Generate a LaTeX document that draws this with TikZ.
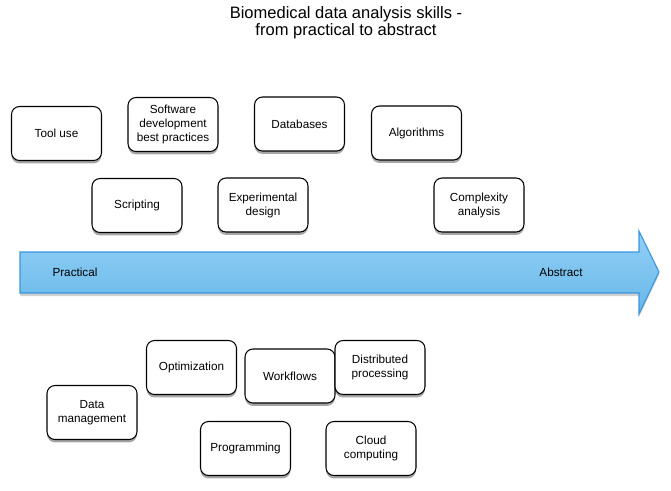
\documentclass[tikz,border=0pt]{standalone}
\usepackage{fontspec}
\setmainfont{Liberation Sans}
\usetikzlibrary{shadows}
\definecolor{arrtop}{HTML}{92D0F7}
\definecolor{arrbot}{HTML}{68B7E8}
\definecolor{arrline}{HTML}{3A95DB}
\tikzset{
  skill/.style={draw=black, line width=0.8pt, rounded corners=6pt, fill=white,
    minimum width=67.5pt, minimum height=40.5pt, align=center, inner sep=1pt,
    font=\fontsize{8.8}{10.5}\selectfont,
    drop shadow={shadow xshift=0pt, shadow yshift=-2.2pt, opacity=0.35, fill=black}},
  lbl/.style={font=\fontsize{8.8}{10.5}\selectfont, inner sep=0pt},
}
\begin{document}
\begin{tikzpicture}[x=0.75pt,y=-0.75pt]
\useasboundingbox (0,0) rectangle (671,490);
\node[align=center, font=\fontsize{12.4}{12.75}\selectfont] (title) at (346,23) {Biomedical data analysis skills -\\from practical to abstract};
% arrow shadow
\fill[black, opacity=0.18] (20,255) -- (639,255) -- (639,234) -- (659,275) -- (639,317) -- (639,296) -- (20,296) -- cycle;
\path[draw=arrline, line width=0.8pt, top color=arrtop, bottom color=arrbot]
  (20,252) -- (639,252) -- (639,231) -- (659,272) -- (639,314) -- (639,293) -- (20,293) -- cycle;
\node[lbl] (practical) at (75,272) {Practical};
\node[lbl] (abstract) at (561,272) {Abstract};
% top boxes
\node[skill] (tool) at (56.5,133.5) {Tool use};
\node[skill] (software) at (173,124.5) {Software\\development\\best practices};
\node[skill] (databases) at (299.5,124) {Databases};
\node[skill] (algorithms) at (416.5,133) {Algorithms};
\node[skill] (scripting) at (137,205.5) {Scripting};
\node[skill] (experimental) at (263,205) {Experimental\\design};
\node[skill] (complexity) at (479,205) {Complexity\\analysis};
% bottom boxes
\node[skill] (datamgmt) at (92,412.5) {Data\\management};
\node[skill] (optimization) at (191.5,367.5) {Optimization};
\node[skill] (workflows) at (290,376) {Workflows};
\node[skill] (distributed) at (380,367.5) {Distributed\\processing};
\node[skill] (programming) at (245.5,448.5) {Programming};
\node[skill] (cloud) at (371,448.5) {Cloud\\computing};
\end{tikzpicture}
\end{document}
